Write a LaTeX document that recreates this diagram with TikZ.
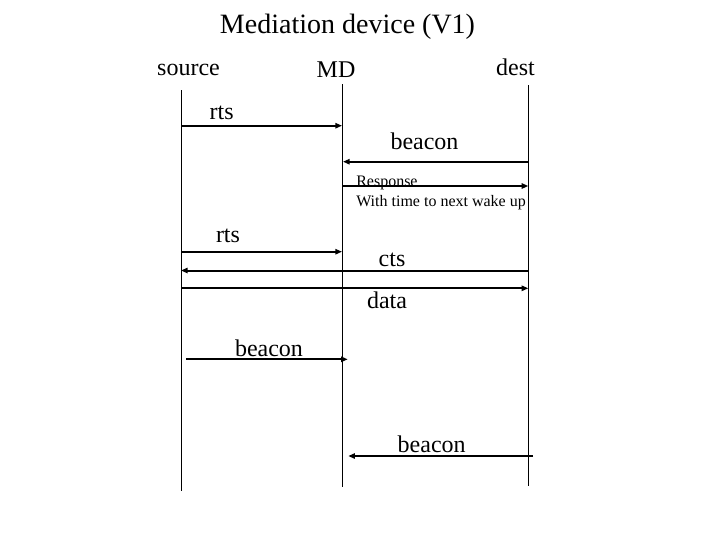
\documentclass[tikz,border=0pt]{standalone}
\usepackage{fontspec}
\setmainfont{Liberation Serif}
\usetikzlibrary{arrows.meta}

\tikzset{
  life/.style={line width=0.75},
  msg/.style={line width=1.5, -{Triangle[length=5pt,width=4pt]}},
  lbl/.style={anchor=base, inner sep=0.75pt, font=\fontsize{18}{20}\selectfont},
  small/.style={anchor=base west, inner sep=0.75pt, font=\fontsize{12}{14}\selectfont}
}

\begin{document}
\begin{tikzpicture}[x=0.75pt,y=0.75pt,yscale=-1,xscale=1]
	\useasboundingbox (0,0) rectangle (720,540);

	% Title and heads
	\node (title) [anchor=base, inner sep=0.75pt, font=\fontsize{21}{24}\selectfont] at (347.5,33) {Mediation device (V1)};
	\node (source) [lbl] at (188.5,75) {source};
	\node (md) [lbl] at (336,77.5) {MD};
	\node (dest) [lbl] at (515.5,75) {dest};

	% Lifelines
	\coordinate (srcTop) at (181,90);   \coordinate (srcBot) at (181,491);
	\coordinate (mdTop) at (342.3,84);  \coordinate (mdBot) at (342.3,487);
	\coordinate (dstTop) at (528.3,85); \coordinate (dstBot) at (528.3,486);
	\draw [life] (srcTop) -- (srcBot);
	\draw [life] (mdTop) -- (mdBot);
	\draw [life] (dstTop) -- (dstBot);

	% Message ends
	\coordinate (rtsA) at (181,125.7);     \coordinate (rtsB) at (342,125.7);
	\coordinate (bcnA) at (528.3,161.7);   \coordinate (bcnB) at (343,161.7);
	\coordinate (rspA) at (343,186);       \coordinate (rspB) at (528.3,186);
	\coordinate (rts2A) at (181,251.7);    \coordinate (rts2B) at (342,251.7);
	\coordinate (ctsA) at (528.3,270.5);   \coordinate (ctsB) at (181,270.5);
	\coordinate (dataA) at (181,288.3);    \coordinate (dataB) at (528.3,288.3);
	\coordinate (bcn2A) at (186,359.3);    \coordinate (bcn2B) at (347.7,359.3);
	\coordinate (bcn3A) at (533,456);      \coordinate (bcn3B) at (348.3,456);

	% Messages
	\draw [msg] (rtsA) -- (rtsB);
	\draw [msg] (bcnA) -- (bcnB);
	\draw [msg] (rspA) -- (rspB);
	\draw [msg] (rts2A) -- (rts2B);
	\draw [msg] (ctsA) -- (ctsB);
	\draw [msg] (dataA) -- (dataB);
	\draw [msg] (bcn2A) -- (bcn2B);
	\draw [msg] (bcn3A) -- (bcn3B);

	% Text Node
	\node (rtsL) [lbl] at (221.7,119) {rts};
	\node (bcnL) [lbl] at (424.5,149) {beacon};
	\node (rspL) [small] at (355,186.5) {Response};
	\node (wakeL) [small] at (355,206) {With time to next wake up};
	\node (rts2L) [lbl] at (228,242.7) {rts};
	\node (ctsL) [lbl] at (392,266.7) {cts};
	\node (dataL) [lbl] at (387,308.3) {data};
	\node (bcn2L) [lbl] at (269,356.7) {beacon};
	\node (bcn3L) [lbl] at (431.7,452.7) {beacon};

\end{tikzpicture}
\end{document}
